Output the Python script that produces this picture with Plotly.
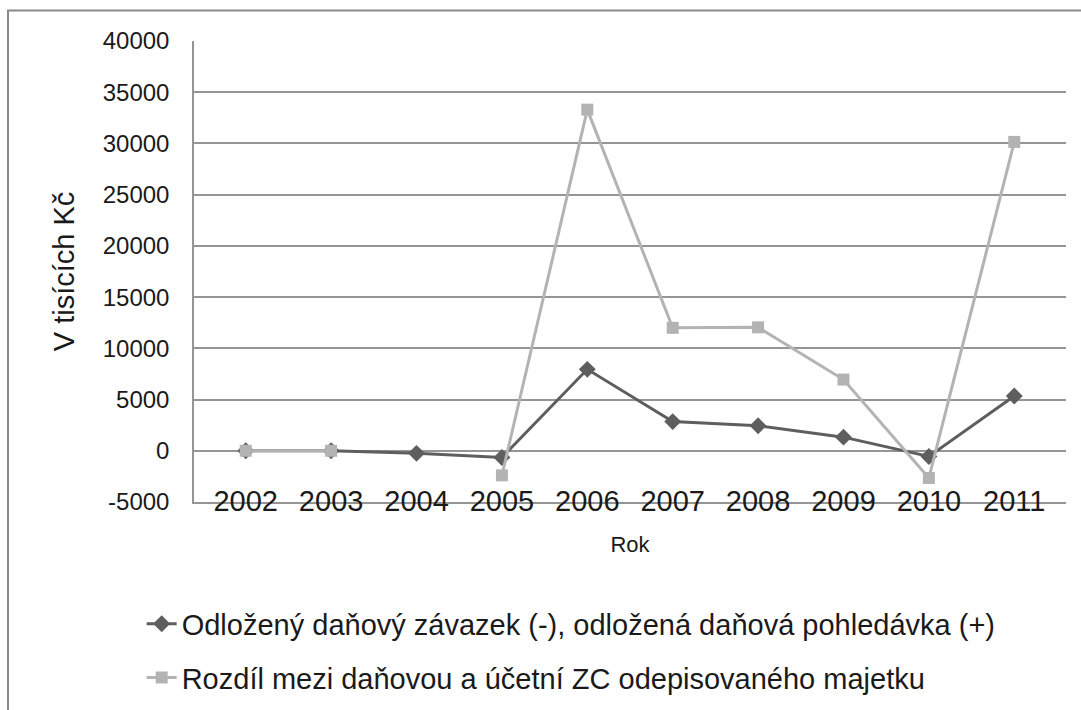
import plotly.graph_objects as go

# Years on the category axis
years = ["2002", "2003", "2004", "2005", "2006", "2007", "2008", "2009", "2010", "2011"]

# Deferred tax liability (-) / deferred tax asset (+), thousands CZK
odlozena_dan = [0, 0, -250, -650, 7950, 2850, 2450, 1330, -560, 5350]

# Difference between tax and accounting net book value (2004 not reported)
rozdil_zc = [0, 0, None, -2400, 33300, 12000, 12050, 6950, -2650, 30150]

# Value-axis ticks
y_ticks = [-5000, 0, 5000, 10000, 15000, 20000, 25000, 30000, 35000, 40000]
y_tick_labels = ["-5000", "0", "5000", "10000", "15000", "20000", "25000", "30000", "35000", "40000"]

name_dan = "Odložený daňový závazek (-), odložená daňová pohledávka (+)"
name_zc = "Rozdíl mezi daňovou a účetní ZC odepisovaného majetku"

font_family = "Liberation Sans, Arial, sans-serif"
dark = "#5e5e5e"
light = "#b3b3b3"
grid = "#959595"

fig = go.Figure()
fig.add_trace(go.Scatter(
    x=years, y=odlozena_dan, name=name_dan, mode="lines+markers",
    line=dict(color=dark, width=3),
    marker=dict(symbol="diamond", size=13, color=dark),
    legendgroup="a",
))
fig.add_trace(go.Scatter(
    x=years, y=rozdil_zc, name=name_zc, mode="lines+markers",
    line=dict(color=light, width=3),
    marker=dict(symbol="square", size=12, color=light),
    connectgaps=False,
    legendgroup="b",
))

fig.update_layout(
    width=1081, height=710,
    margin=dict(l=194, r=15, t=41, b=208, autoexpand=False),
    paper_bgcolor="white", plot_bgcolor="white",
    font=dict(family=font_family, color="#1a1a1a"),
    showlegend=True,
    legend=dict(
        x=-0.06, xanchor="left", y=-0.209, yanchor="top",
        orientation="v", font=dict(size=29, color="#1a1a1a"),
        traceorder="grouped", tracegroupgap=13,
        bgcolor="rgba(0,0,0,0)",
    ),
    xaxis=dict(
        type="category", categoryorder="array", categoryarray=years,
        showgrid=False, zeroline=False,
        showline=True, linecolor=grid, linewidth=1.5,
        tickfont=dict(size=29, color="#1a1a1a"),
        ticks="", ticklabelstandoff=-28,
        title=dict(text="Rok", font=dict(size=22, color="#1a1a1a"), standoff=21),
    ),
    yaxis=dict(
        range=[-5000, 40000],
        tickmode="array", tickvals=y_ticks, ticktext=y_tick_labels,
        showgrid=True, gridcolor=grid, gridwidth=1.5,
        zeroline=False,
        showline=True, linecolor=grid, linewidth=1.5,
        tickfont=dict(size=24, color="#1a1a1a"),
        ticks="", ticklabelstandoff=18,
        title=dict(text="V tisících Kč", font=dict(size=29, color="#1a1a1a"), standoff=20),
    ),
    shapes=[dict(
        type="rect", xref="paper", yref="paper",
        x0=-0.2133, x1=1.05, y0=-0.5, y1=1.066,
        line=dict(color="#8a8a8a", width=2), fillcolor="rgba(0,0,0,0)",
        layer="below",
    )],
)

fig.write_html("out.html")
